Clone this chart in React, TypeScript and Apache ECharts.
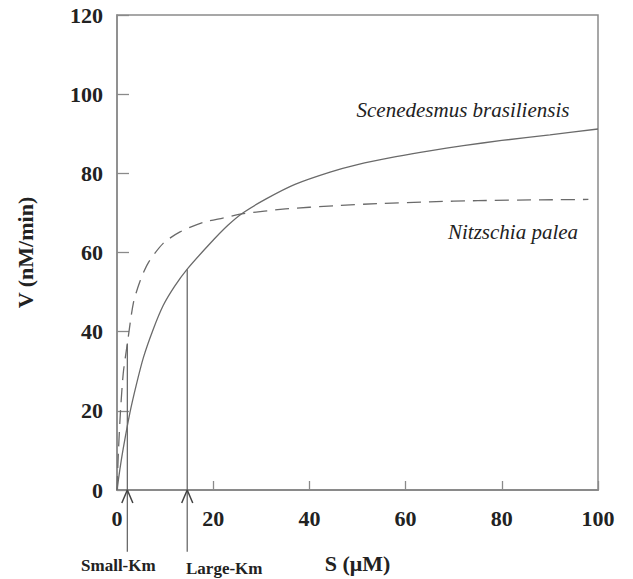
import React, { useEffect, useRef } from "react";
import * as echarts from "echarts";

const sceneS = [0, 0.6, 1.3, 2.7, 4, 5.5, 7.5, 9.6, 12, 14.6, 19.3, 23, 26.3, 31.1, 37, 44.3, 50, 58, 65, 72, 80, 90, 100];
const sceneV = [0, 5.2, 10.5, 19.6, 26.5, 33.5, 40.5, 46.6, 51.5, 55.8, 62.2, 66.8, 70.1, 73.6, 77.2, 80.3, 82.2, 84.2, 85.7, 87, 88.3, 89.7, 91.2];
const nitzS = [0, 0.3, 0.7, 1.3, 2.15, 3.4, 4.8, 6.5, 9.6, 13.1, 17.9, 22, 26.3, 35, 45, 55, 65, 75, 88, 98];
const nitzV = [0, 9.8, 19.4, 29.5, 37, 47.2, 52.8, 57.4, 62.3, 65.2, 67.6, 68.7, 69.8, 71, 71.8, 72.4, 72.8, 73.1, 73.3, 73.4];
const kmS = [2.15, 14.6];
const kmTop = [37, 55.8];
const kmBottom = -15.6;
const kmLabels = ["Small-Km", "Large-Km"];

const SERIF = "'Liberation Serif', 'DejaVu Serif', serif";
const LINE = "#6a6a6a";
const AXIS = "#8a8a8a";
const TEXT = "#222";

export default function App() {
  const ref = useRef<HTMLDivElement>(null);
  useEffect(() => {
    if (!ref.current) return;
    const chart = echarts.init(ref.current, undefined, { renderer: "svg" });
    const zip = (a: number[], b: number[]) => a.map((v, i) => [v, b[i]]);
    const kmSeries: any[] = [];
    kmS.forEach((s, i) => {
      kmSeries.push({
        type: "line",
        data: [[s, kmBottom], [s, kmTop[i]]],
        showSymbol: false,
        clip: false,
        lineStyle: { color: LINE, width: 1.3 },
        silent: true,
      });
      kmSeries.push({
        type: "line",
        data: [[s - 1.15, -3.3], [s, 0], [s + 1.15, -3.3]],
        showSymbol: false,
        clip: false,
        lineStyle: { color: "#444", width: 1.5 },
        silent: true,
      });
    });
    chart.setOption({
      animation: false,
      backgroundColor: "#fff",
      grid: { left: 117, right: 35, top: 15, bottom: 88, show: true, borderColor: AXIS, borderWidth: 1.5 },
      xAxis: {
        type: "value",
        min: 0,
        max: 100,
        interval: 20,
        name: "S (μM)",
        nameLocation: "middle",
        nameGap: 62,
        nameTextStyle: { fontFamily: SERIF, fontWeight: "bold", fontSize: 22, color: TEXT },
        axisLine: { show: true, lineStyle: { color: AXIS, width: 2 } },
        axisTick: { show: true, inside: true, length: 9, lineStyle: { color: AXIS, width: 1.3 } },
        axisLabel: { margin: 17, fontFamily: SERIF, fontWeight: "bold", fontSize: 22, color: TEXT },
        splitLine: { show: false },
      },
      yAxis: {
        type: "value",
        min: 0,
        max: 120,
        interval: 20,
        name: "V (nM/min)",
        nameLocation: "middle",
        nameGap: 81,
        nameTextStyle: { fontFamily: SERIF, fontWeight: "bold", fontSize: 22, color: TEXT },
        axisLine: { show: true, lineStyle: { color: AXIS, width: 1.5 } },
        axisTick: { show: true, inside: true, length: 12, lineStyle: { color: AXIS, width: 1.3 } },
        axisLabel: { margin: 14, fontFamily: SERIF, fontWeight: "bold", fontSize: 22, color: TEXT },
        splitLine: { show: false },
      },
      series: [
        {
          type: "line",
          data: zip(sceneS, sceneV),
          smooth: 0.25,
          showSymbol: false,
          lineStyle: { color: LINE, width: 1.3 },
        },
        {
          type: "line",
          data: zip(nitzS, nitzV),
          smooth: 0.25,
          showSymbol: false,
          lineStyle: { color: LINE, width: 1.3, type: [14, 8] },
        },
        ...kmSeries,
      ],
    });
    const p = (x: number, y: number) => chart.convertToPixel({ gridIndex: 0 }, [x, y]) as number[];
    const graphics: any[] = [];
    const offs = [-9, 37];
    const bottoms = [565, 568];
    kmS.forEach((s, i) => {
      const pt = p(s, kmBottom);
      graphics.push({
        type: "text",
        x: pt[0] + offs[i],
        y: bottoms[i],
        style: {
          text: kmLabels[i],
          fontFamily: SERIF,
          fontWeight: "bold",
          fontSize: 17,
          fill: TEXT,
          align: "center",
          verticalAlign: "middle",
        },
      });
    });
    graphics.push({
      type: "text",
      x: 463,
      y: 110,
      style: { text: "Scenedesmus brasiliensis", fontFamily: SERIF, fontStyle: "italic", fontSize: 21, fill: TEXT, align: "center", verticalAlign: "middle" },
    });
    graphics.push({
      type: "text",
      x: 513,
      y: 232,
      style: { text: "Nitzschia palea", fontFamily: SERIF, fontStyle: "italic", fontSize: 21, fill: TEXT, align: "center", verticalAlign: "middle" },
    });
    chart.setOption({ graphic: graphics });
    return () => chart.dispose();
  }, []);
  return <div ref={ref} style={{ width: 633, height: 579, position: "absolute", left: 0, top: 0 }} />;
}
